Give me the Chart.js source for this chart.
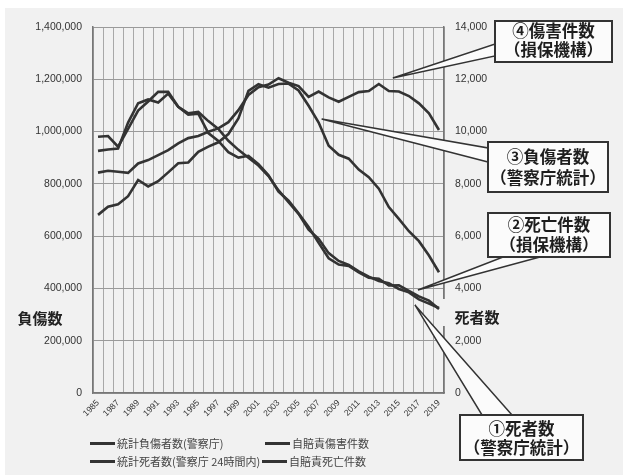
<!DOCTYPE html>
<html><head><meta charset="utf-8">
<script src="https://cdn.jsdelivr.net/npm/chart.js@4/dist/chart.umd.min.js"></script>
<style>
html,body{margin:0;padding:0;background:#fff;}
#wrap{position:relative;width:623px;height:475px;overflow:hidden;}
#c{position:absolute;left:0;top:0;}
.lg{position:absolute;font-family:"Noto Sans CJK JP","Noto Sans",sans-serif;font-size:11px;color:#444;line-height:14px;height:14px;white-space:nowrap;display:flex;align-items:center;}
.lg i{display:inline-block;width:25px;height:3px;background:#333;margin-right:2px;}
</style></head>
<body>
<div id="wrap"><canvas id="c" width="623" height="475"></canvas><div id="legend"></div></div>
<script>
// ---- data ----
const years = ['1985','1986','1987','1988','1989','1990','1991','1992','1993','1994','1995','1996','1997','1998','1999','2000','2001','2002','2003','2004','2005','2006','2007','2008','2009','2010','2011','2012','2013','2014','2015','2016','2017','2018','2019'];
const injuredPolice = [681346,712330,722179,752845,814832,790295,810245,844003,878633,881723,922677,942204,958925,990675,1050399,1155707,1181039,1168029,1181681,1183617,1157113,1098564,1034652,945703,911215,896297,854613,825396,781494,711374,666023,618853,580850,525846,461775];
const injuryClaims = [843000,850000,846000,842000,878000,891000,910000,929000,955000,975000,983000,999000,1012000,1036000,1082000,1140000,1170000,1180000,1204000,1187000,1174000,1133000,1153000,1131000,1114000,1133000,1151000,1155000,1182000,1155000,1153000,1136000,1108000,1070000,1006000];
const deathsPolice = [9261,9317,9347,10344,11086,11227,11109,11452,10942,10649,10684,9942,9640,9211,9006,9073,8757,8326,7702,7358,6871,6352,5744,5155,4914,4863,4611,4411,4373,4113,4117,3904,3694,3532,3215];
const deathClaims = [9800,9830,9420,10100,10800,11150,11520,11520,10950,10700,10750,10400,10100,9650,9300,9000,8700,8300,7750,7300,6850,6250,5900,5350,5050,4900,4650,4450,4280,4200,3980,3850,3580,3420,3250];
const seriesLabels = ['統計負傷者数(警察庁)','自賠責傷害件数','統計死者数(警察庁 24時間内)','自賠責死亡件数'];
const leftTitle = '負傷数';
const rightTitle = '死者数';
const notes = [
  {lines:['④傷害件数','（損保機構）'], axis:'y',  idx:29.4, val:1205000},
  {lines:['③負傷者数','（警察庁統計）'], axis:'y',  idx:22.3, val:1048000},
  {lines:['②死亡件数','（損保機構）'], axis:'y1', idx:31.9, val:3940},
  {lines:['①死者数','（警察庁統計）'], axis:'y1', idx:31.6, val:3370}
];
// layout of callout boxes (pixels): box [x,y,w,h], base points on box edge, text line centers
const noteLayout = [
  {box:[495,21,117,41], base:[[495,44],[495,56]], ty:[31,50]},
  {box:[488,142,120,50], base:[[488,148],[488,162]], ty:[157,178]},
  {box:[488,213,122,44], base:[[503,257],[540,257]], ty:[225,245]},
  {box:[460,415,123,45], base:[[482,415],[512,415]], ty:[429,448]}
];
const BG = '#f1f1f1';
const LINE = '#333333';

const decorPlugin = {
  id:'decor',
  beforeDraw(chart){
    const c = chart.ctx;
    c.save();
    c.fillStyle = '#ffffff'; c.fillRect(0,0,chart.width,chart.height);
    c.fillStyle = BG; c.fillRect(5,8,chart.width-5,chart.height-8);
    c.restore();
  },
  afterDraw(chart){
    const c = chart.ctx;
    c.save();
    // cover behind right title
    c.fillStyle = BG; c.fillRect(441,299,66,27);
    c.fillStyle = '#222';
    c.font = 'bold 15px "Noto Sans CJK JP"';
    c.textAlign = 'center'; c.textBaseline = 'middle';
    c.fillText(leftTitle, 40, 318);
    c.fillText(rightTitle, 477, 317);
    // callouts
    const xs = chart.scales.x;
    notes.forEach((n,k)=>{
      const L = noteLayout[k];
      const tx = xs.getPixelForValue(n.idx);
      const ty = chart.scales[n.axis].getPixelForValue(n.val);
      c.beginPath();
      c.moveTo(tx,ty); c.lineTo(L.base[0][0],L.base[0][1]); c.lineTo(L.base[1][0],L.base[1][1]); c.closePath();
      c.fillStyle = '#fbfbfb'; c.fill();
      c.strokeStyle = LINE; c.lineWidth = 1.5; c.stroke();
    });
    notes.forEach((n,k)=>{
      const L = noteLayout[k];
      const [bx,by,bw,bh] = L.box;
      c.fillStyle = '#fbfbfb'; c.fillRect(bx,by,bw,bh);
      c.strokeStyle = LINE; c.lineWidth = 2; c.strokeRect(bx,by,bw,bh);
      c.fillStyle = '#1e1e1e';
      c.font = 'bold 16.5px "Noto Sans CJK JP"';
      c.textAlign = 'center'; c.textBaseline = 'middle';
      n.lines.forEach((t,j)=> c.fillText(t, bx+bw/2, L.ty[j]));
    });
    c.restore();
  }
};

const ds = (label, data, axis) => ({label, data, yAxisID: axis, borderColor: LINE, backgroundColor: LINE, borderWidth: 2.6, pointRadius: 0, pointHoverRadius: 0, tension: 0, fill: false});

const tickFont = {family:'"Liberation Sans"', size:10.5};
new Chart(document.getElementById('c'), {
  type:'line',
  data:{
    labels: years,
    datasets:[
      ds(seriesLabels[0], injuredPolice, 'y'),
      ds(seriesLabels[1], injuryClaims, 'y'),
      ds(seriesLabels[2], deathsPolice, 'y1'),
      ds(seriesLabels[3], deathClaims, 'y1')
    ]
  },
  options:{
    responsive:false, animation:false, devicePixelRatio:1,
    layout:{padding:{top:27,left:0,right:0,bottom:0}},
    plugins:{legend:{display:false}, tooltip:{enabled:false}, title:{display:false}},
    scales:{
      x:{
        type:'category', offset:true,
        grid:{offset:true, color:'#a8a8a8', lineWidth:1, drawTicks:false},
        border:{display:true, color:'#777', width:1.5},
        ticks:{autoSkip:false, maxRotation:45, minRotation:45, padding:5, color:'#333',
               font:{family:'"Liberation Sans"', size:8.5},
               callback:(v,i)=> (i%2===0 ? years[i] : '')},
        afterFit:(s)=>{ s.height = 82; }
      },
      y:{
        position:'left', min:0, max:1400000,
        grid:{color:'#9a9a9a', lineWidth:1, drawTicks:false},
        border:{display:true, color:'#777', width:1.5},
        ticks:{stepSize:200000, padding:11, color:'#333', font:tickFont,
               callback:(v)=> Number(v).toLocaleString('en-US')},
        afterFit:(s)=>{ s.width = 93; }
      },
      y1:{
        position:'right', min:0, max:14000,
        grid:{drawOnChartArea:false, drawTicks:false},
        border:{display:true, color:'#777', width:1.5},
        ticks:{stepSize:2000, padding:11, color:'#333', font:tickFont,
               callback:(v)=> Number(v).toLocaleString('en-US')},
        afterFit:(s)=>{ s.width = 179; }
      }
    }
  },
  plugins:[decorPlugin]
});

// legend (Excel-style 2x2 grid)
const legendPos = [[90,436],[265,436],[90,454],[262,454]];
const lg = document.getElementById('legend');
seriesLabels.forEach((t,k)=>{
  const d = document.createElement('div');
  d.className = 'lg';
  d.style.left = legendPos[k][0]+'px';
  d.style.top = legendPos[k][1]+'px';
  const i = document.createElement('i');
  d.appendChild(i);
  d.appendChild(document.createTextNode(t));
  lg.appendChild(d);
});
</script>
</body></html>
